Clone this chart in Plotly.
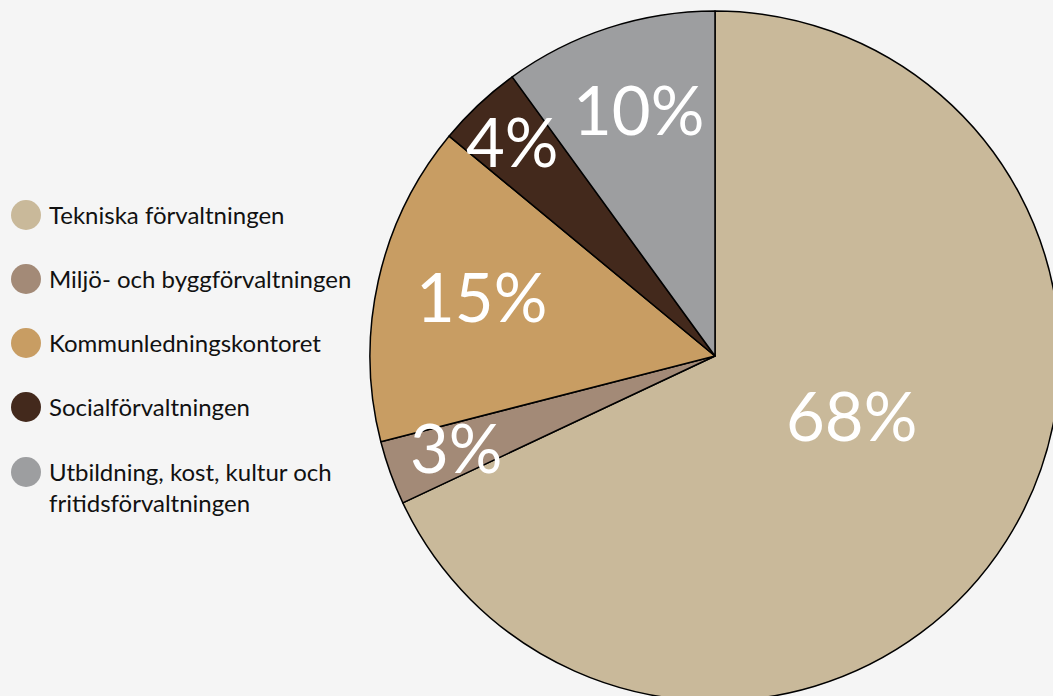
import plotly.graph_objects as go

# ---- data ----
categories = [
    "Tekniska förvaltningen",
    "Miljö- och byggförvaltningen",
    "Kommunledningskontoret",
    "Socialförvaltningen",
    "Utbildning, kost, kultur och<br>fritidsförvaltningen",
]
values = [68, 3, 15, 4, 10]
colors = ["#C9B99A", "#A38A77", "#C89D63", "#43291C", "#9D9EA0"]

W, H = 1070, 712
FONT = "Lato"
BG = "#F5F5F5"

# label placement (pixel centres of percentage labels), layout only
label_px = [(851, 420), (456, 452), (481, 301), (512, 146), (638, 114)]
# legend rows (pixel centre y)
legend_y = [215, 279, 343, 407, 472]

def px_x(x):
    return x / W

def px_y(y):
    return 1 - y / H

fig = go.Figure()
cx, cy, r = 715, 356, 345
fig.add_trace(go.Pie(
    labels=[c.replace("<br>", " ") for c in categories],
    values=values,
    sort=False,
    direction="clockwise",
    rotation=0,
    marker=dict(colors=colors, line=dict(color="#000000", width=1.5)),
    textinfo="none",
    hoverinfo="label+percent",
    showlegend=False,
    domain=dict(x=[px_x(cx - r), px_x(cx + r)], y=[px_y(cy + r), px_y(cy - r)]),
))

annotations = []
shapes = []
for v, (lx, ly) in zip(values, label_px):
    annotations.append(dict(
        x=px_x(lx), y=px_y(ly - 5), xref="paper", yref="paper",
        text=f"{v}%", showarrow=False, xanchor="center", yanchor="middle",
        font=dict(family=FONT, size=67, color="#FFFFFF"),
    ))

for cat, col, ly in zip(categories, colors, legend_y):
    shapes.append(dict(
        type="circle", xref="paper", yref="paper",
        x0=px_x(11), x1=px_x(41), y0=px_y(ly + 15), y1=px_y(ly - 15),
        fillcolor=col, line=dict(width=0),
    ))
    annotations.append(dict(
        x=px_x(47), y=px_y(ly - 17), xref="paper", yref="paper",
        text=cat, showarrow=False, xanchor="left", yanchor="top", align="left",
        font=dict(family=FONT, size=24, color="#111111"),
    ))

fig.update_layout(
    width=W, height=H,
    margin=dict(l=0, r=0, t=0, b=0),
    paper_bgcolor=BG,
    plot_bgcolor=BG,
    annotations=annotations,
    shapes=shapes,
)

fig.write_html(
    "out.html",
    config={"displayModeBar": False},
    post_script=(
        "document.body.style.margin='0';"
        "document.body.style.overflow='hidden';"
        f"document.body.style.background='{BG}';"
    ),
)
